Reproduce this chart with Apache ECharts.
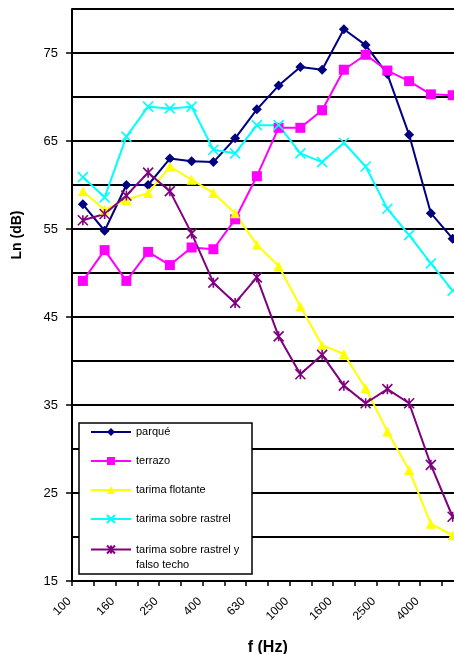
<!DOCTYPE html>
<html>
<head>
<meta charset="utf-8">
<script src="https://cdn.jsdelivr.net/npm/echarts@6/dist/echarts.min.js"></script>
<style>
html,body{margin:0;padding:0;background:#fff;}
#c{width:454px;height:654px;}
</style>
</head>
<body>
<div id="c"></div>
<script>
var categories = ['100','125','160','200','250','315','400','500','630','800','1000','1250','1600','2000','2500','3150','4000','5000'];
var seriesNames = ['parqué','terrazo','tarima flotante','tarima sobre rastrel','tarima sobre rastrel y falso techo'];
var parquet  = [57.8, 54.8, 60.0, 60.0, 63.0, 62.7, 62.6, 65.3, 68.6, 71.3, 73.4, 73.1, 77.7, 75.9, 72.6, 65.7, 56.8, 53.9];
var terrazo  = [49.1, 52.6, 49.1, 52.4, 50.9, 52.9, 52.7, 56.1, 61.0, 66.5, 66.5, 68.5, 73.1, 74.8, 73.0, 71.8, 70.3, 70.2];
var flotante = [59.3, 57.2, 58.3, 59.1, 62.1, 60.6, 59.1, 56.8, 53.2, 50.8, 46.2, 41.8, 40.8, 36.9, 32.0, 27.6, 21.5, 20.2];
var rastrel  = [60.9, 58.6, 65.5, 68.9, 68.7, 68.9, 64.0, 63.6, 66.8, 66.8, 63.6, 62.6, 64.8, 62.1, 57.3, 54.3, 51.1, 48.0];
var falso    = [56.0, 56.7, 58.8, 61.4, 59.3, 54.5, 48.9, 46.6, 49.5, 42.8, 38.5, 40.7, 37.2, 35.2, 36.8, 35.2, 28.2, 22.3];
var yTickLabels = ['15','25','35','45','55','65','75'];

var FONT = '"Liberation Sans", Arial, sans-serif';
var chart = echarts.init(document.getElementById('c'), null, {renderer:'canvas'});

function mkSeries(name, data, color, symbol, size, stroke) {
  var s = {
    name: name, type: 'line', data: data, xAxisIndex: 0, yAxisIndex: 0,
    symbol: symbol, symbolSize: size, showAllSymbol: true,
    lineStyle: {color: color, width: 2},
    itemStyle: {color: color},
    emphasis: {disabled: true}
  };
  if (stroke) {
    s.itemStyle = {color: color, borderColor: color, borderWidth: 1.6};
  }
  return s;
}

var legendText = {color: '#000', fontSize: 11, fontFamily: FONT, lineHeight: 15};

var option = {
  animation: false,
  backgroundColor: '#fff',
  textStyle: {fontFamily: FONT},
  grid: [
    {left: 72, top: 9, width: 391.5, height: 572, containLabel: false, outerBoundsMode: 'none'},
    {left: 72, top: 53, width: 391.5, height: 528, containLabel: false, outerBoundsMode: 'none'}
  ],
  graphic: [{
    type: 'rect', z: 3, silent: true,
    shape: {x: 79, y: 423, width: 173, height: 151},
    style: {fill: '#fff', stroke: '#000', lineWidth: 1.5}
  }],
  xAxis: [
    {
      type: 'category', gridIndex: 0, data: categories, boundaryGap: true,
      axisLine: {lineStyle: {color: '#000', width: 2}},
      axisTick: {show: true, interval: 0, length: 5, lineStyle: {color: '#000', width: 1.5}},
      axisLabel: {interval: 1, rotate: 45, margin: 5, padding: [0, 19, 0, 0], color: '#000', fontSize: 12, fontFamily: FONT},
      name: 'f (Hz)', nameLocation: 'middle', nameGap: 59,
      nameTextStyle: {color: '#000', fontSize: 16, fontWeight: 'bold', fontFamily: FONT},
      splitLine: {show: false}
    },
    {type: 'value', gridIndex: 1, show: false, min: 0, max: 1}
  ],
  yAxis: [
    {
      type: 'value', gridIndex: 0, min: 15, max: 80, interval: 5,
      axisLine: {show: true, lineStyle: {color: '#000', width: 2}},
      axisTick: {show: false},
      axisLabel: {show: false},
      splitLine: {show: true, lineStyle: {color: '#000', width: 2}},
      name: 'Ln (dB)', nameLocation: 'middle', nameGap: 48, nameRotate: 90,
      nameTextStyle: {color: '#000', fontSize: 14, fontWeight: 'bold', fontFamily: FONT, padding: [0, 0, 0, 120]}
    },
    {
      type: 'value', gridIndex: 1, min: 15, max: 75, interval: 10,
      axisLine: {show: false},
      axisTick: {show: true, length: 6, lineStyle: {color: '#000', width: 1.5}},
      axisLabel: {show: true, margin: 14, color: '#000', fontSize: 13, fontFamily: FONT,
        formatter: function (v) { var s = String(v); return yTickLabels.indexOf(s) >= 0 ? s : ''; }},
      splitLine: {show: false}
    }
  ],
  legend: [
    {
      orient: 'vertical', left: 79, top: 423, z: 4,
      padding: [1.5, 0, 0, 11],
      itemGap: 14, itemWidth: 40, itemHeight: 10,
      textStyle: legendText,
      data: [seriesNames[0], seriesNames[1], seriesNames[2], seriesNames[3]],
      selectedMode: false
    },
    {
      orient: 'vertical', left: 79, top: 527, z: 4,
      padding: [0, 0, 0, 11],
      itemWidth: 40, itemHeight: 10,
      textStyle: legendText,
      data: [seriesNames[4]],
      formatter: function (n) { return '\ntarima sobre rastrel y\nfalso techo'; },
      selectedMode: false
    }
  ],
  series: [
    mkSeries(seriesNames[0], parquet, '#000080', 'diamond', 10),
    mkSeries(seriesNames[1], terrazo, '#FF00FF', 'rect', 10),
    mkSeries(seriesNames[2], flotante, '#FFFF00', 'triangle', 10),
    mkSeries(seriesNames[3], rastrel, '#00FFFF', 'path://M0,0L10,10M10,0L0,10', 10, true),
    mkSeries(seriesNames[4], falso, '#800080', 'path://M0,0L10,10M10,0L0,10M5,0L5,10', 10, true)
  ]
};
chart.setOption(option);
</script>
</body>
</html>
